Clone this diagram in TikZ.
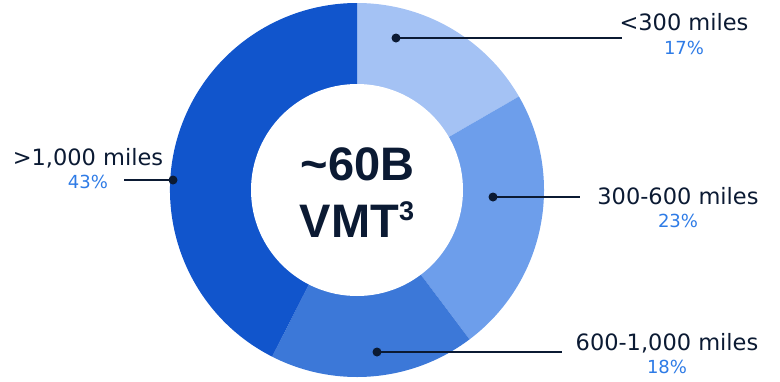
\documentclass[tikz,border=0pt]{standalone}
\usepackage{fontspec}
\setmainfont{DejaVu Sans}
\newfontfamily\centerfont{Liberation Sans}
\definecolor{segA}{HTML}{A4C2F4}
\definecolor{segB}{HTML}{6D9EEB}
\definecolor{segC}{HTML}{3C78D8}
\definecolor{segD}{HTML}{1155CC}
\definecolor{inkdark}{HTML}{0B1A33}
\definecolor{pctblue}{HTML}{2E7BE6}
\tikzset{
  dotmark/.style={circle, fill=inkdark, inner sep=0pt, minimum size=9pt},
  leader/.style={draw=inkdark, line width=2pt},
  lab/.style={text=inkdark, inner sep=0pt, anchor=base, font=\fontsize{22.5}{26}\selectfont},
  pct/.style={text=pctblue, inner sep=0pt, anchor=base, font=\fontsize{18}{22}\selectfont},
  big/.style={text=inkdark, inner sep=0pt, anchor=base, font=\centerfont\bfseries\fontsize{47}{50}\selectfont}
}
\begin{document}
\begin{tikzpicture}[x=1pt,y=1pt]
\useasboundingbox (0,0) rectangle (780,-381);
\coordinate (c) at (357,-190);
\def\R{187}
\fill[segA] (c) -- ++(90:\R) arc[start angle=90, end angle=30, radius=\R] -- cycle;
\fill[segB] (c) -- ++(30:\R) arc[start angle=30, end angle=-53, radius=\R] -- cycle;
\fill[segC] (c) -- ++(-53:\R) arc[start angle=-53, end angle=-117, radius=\R] -- cycle;
\fill[segD] (c) -- ++(-117:\R) arc[start angle=-117, end angle=-270, radius=\R] -- cycle;
\fill[white] (c) circle[radius=106];
% center text
\node[big] (t1) at (357.5,-180) {\char`~60B};
\node[big] (t2) at (357,-237) {VMT\raisebox{17pt}{\fontsize{27}{27}\selectfont 3}};
% <300
\node[dotmark] (d1) at (396,-38) {};
\coordinate (e1) at (622,-38);
\draw[leader] (d1.center) -- (e1);
\node[lab] (l1) at (684,-30) {<300 miles};
\node[pct] (p1) at (684,-54) {17\%};
% 300-600
\node[dotmark] (d2) at (493,-197) {};
\coordinate (e2) at (580,-197);
\draw[leader] (d2.center) -- (e2);
\node[lab] (l2) at (678,-204) {300-600 miles};
\node[pct] (p2) at (678,-227) {23\%};
% 600-1000
\node[dotmark] (d3) at (377,-352) {};
\coordinate (e3) at (562,-352);
\draw[leader] (d3.center) -- (e3);
\node[lab] (l3) at (667,-350) {600-1,000 miles};
\node[pct] (p3) at (667,-373) {18\%};
% >1000
\node[dotmark] (d4) at (173,-180) {};
\coordinate (e4) at (124,-180);
\draw[leader] (d4.center) -- (e4);
\node[lab] (l4) at (88,-165) {>1,000 miles};
\node[pct] (p4) at (88,-188) {43\%};
\end{tikzpicture}
\end{document}
